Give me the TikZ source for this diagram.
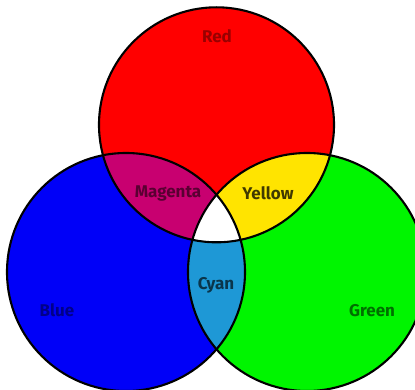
\documentclass[tikz,border=0pt]{standalone}
\usepackage{fontspec}
\setmainfont{Fira Sans}
\definecolor{redfill}{RGB}{255,0,0}
\definecolor{bluefill}{RGB}{0,0,248}
\definecolor{greenfill}{RGB}{0,245,0}
\definecolor{magentafill}{RGB}{200,0,112}
\definecolor{yellowfill}{RGB}{255,228,0}
\definecolor{cyanfill}{RGB}{30,152,214}
\tikzset{
  ring/.style={draw=black, line width=2.1pt},
  lab/.style={font=\fontsize{17}{19}\selectfont\bfseries, inner sep=0pt}
}
\begin{document}
\begin{tikzpicture}[x=1pt, y=-1pt]
        \useasboundingbox (0,0) rectangle (415,390);
        \clip (0,0) rectangle (415,390);
        \coordinate (R) at (216.5,124.8);
        \coordinate (B) at (126,272);
        \coordinate (G) at (307,272);
        % Primary circles
        \fill[redfill] (R) circle (117.5);
        \fill[bluefill] (B) circle (119);
        \fill[greenfill] (G) circle (119);
        % Pairwise overlaps
        \begin{scope}
          \clip (R) circle (117.5);
          \fill[magentafill] (B) circle (119);
          \fill[yellowfill] (G) circle (119);
        \end{scope}
        \begin{scope}
          \clip (B) circle (119);
          \fill[cyanfill] (G) circle (119);
        \end{scope}
        % Centre (all three)
        \begin{scope}
          \clip (R) circle (117.5);
          \clip (B) circle (119);
          \fill[white] (G) circle (119);
        \end{scope}
        % Outlines
        \draw[ring] (R) circle (117.5);
        \draw[ring] (B) circle (119);
        \draw[ring] (G) circle (119);
        % Labels
        \node[lab, text=red!60!black] (lred) at (217,36) {Red};
        \node[lab, text=magentafill!45!black] (lmag) at (168,193) {Magenta};
        \node[lab, text=yellowfill!25!black] (lyel) at (268,193) {Yellow};
        \node[lab, text=cyanfill!35!black] (lcyan) at (216,285) {Cyan};
        \node[lab, text=bluefill!55!black] (lblue) at (57,310) {Blue};
        \node[lab, text=greenfill!45!black] (lgreen) at (372,311) {Green};
      \end{tikzpicture}
\end{document}
